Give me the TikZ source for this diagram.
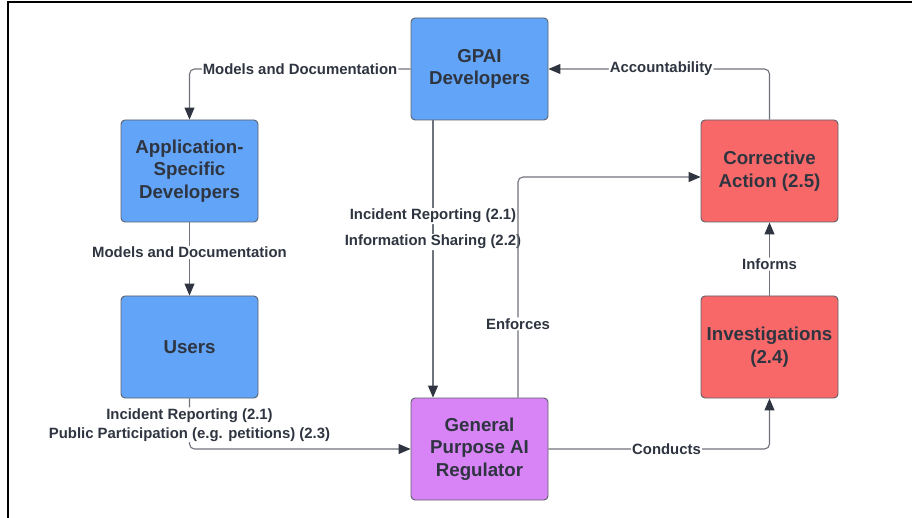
\documentclass[tikz,border=0pt]{standalone}
\usepackage{fontspec}
\setmainfont{Liberation Sans}
\usetikzlibrary{arrows.meta}
\definecolor{bluebox}{HTML}{62A5F8}
\definecolor{redbox}{HTML}{F96868}
\definecolor{purplebox}{HTML}{D884F6}
\definecolor{txt}{HTML}{2F3540}
\definecolor{edge}{HTML}{5C6068}
\definecolor{wire}{HTML}{6E727A}
\tikzset{
  box/.style={draw=edge, line width=0.9pt, rounded corners=4pt, minimum width=137pt, minimum height=102pt,
    text=txt, align=center, font=\fontsize{18.7}{22.5}\selectfont\bfseries, inner sep=0pt},
  bluenode/.style={box, fill=bluebox},
  rednode/.style={box, fill=redbox},
  purplenode/.style={box, fill=purplebox},
  wirestyle/.style={draw=wire, line width=1.1pt, rounded corners=5pt,
    -{Triangle[length=12pt,width=10pt,fill=txt,color=txt]}},
  lbl/.style={fill=white, text=txt, font=\fontsize{14.9}{19}\selectfont\bfseries, inner sep=1pt, align=center},
  frameline/.style={draw=black, line width=1.4pt}
}
\begin{document}
\begin{tikzpicture}[x=1pt,y=-1pt]
\useasboundingbox (0,0) rectangle (912,518);
\draw[frameline] (912,2) coordinate (fr1) -- (8,2) coordinate (fr2) -- (8,518) coordinate (fr3);

\node[bluenode] (gpai) at (479.5,69) {GPAI\\Developers};
\node[bluenode] (app) at (189.5,171) {Application-\\Specific\\Developers};
\node[bluenode] (users) at (189.5,347) {Users};
\node[purplenode] (reg) at (479.5,449) {General\\Purpose AI\\Regulator};
\node[rednode] (corr) at (769.5,171) {Corrective\\Action (2.5)};
\node[rednode] (inv) at (769.5,347) {Investigations\\(2.4)};

\draw[wirestyle] (gpai.west) -| node[lbl, pos=0.25] (l1) {Models and Documentation} (app.north);
\draw[wirestyle] (app.south) -- node[lbl, pos=0.41] (l2) {Models and Documentation} (users.north);
\draw[wirestyle] ([xshift=-46.5pt]gpai.south) -- node[lbl, pos=0.345] (l3) {Incident Reporting (2.1)}
  node[lbl, pos=0.439] (l4) {Information Sharing (2.2)} ([xshift=-46.5pt]reg.north);
\draw[wirestyle] (users.south) |- node[lbl, pos=0.26] (l5) {Incident Reporting (2.1)\\Public Participation (e.g. petitions) (2.3)} (reg.west);
\draw[wirestyle] ([xshift=38.5pt]reg.north) |- node[lbl, pos=0.167] (l6) {Enforces} ([yshift=-6pt]corr.west);
\draw[wirestyle] (reg.east) -| node[lbl, pos=0.267] (l7) {Conducts} (inv.south);
\draw[wirestyle] (inv.north) -- node[lbl, pos=0.43] (l8) {Informs} (corr.south);
\draw[wirestyle] (corr.north) |- node[lbl, pos=0.745] (l9) {Accountability} (gpai.east);
\end{tikzpicture}
\end{document}
